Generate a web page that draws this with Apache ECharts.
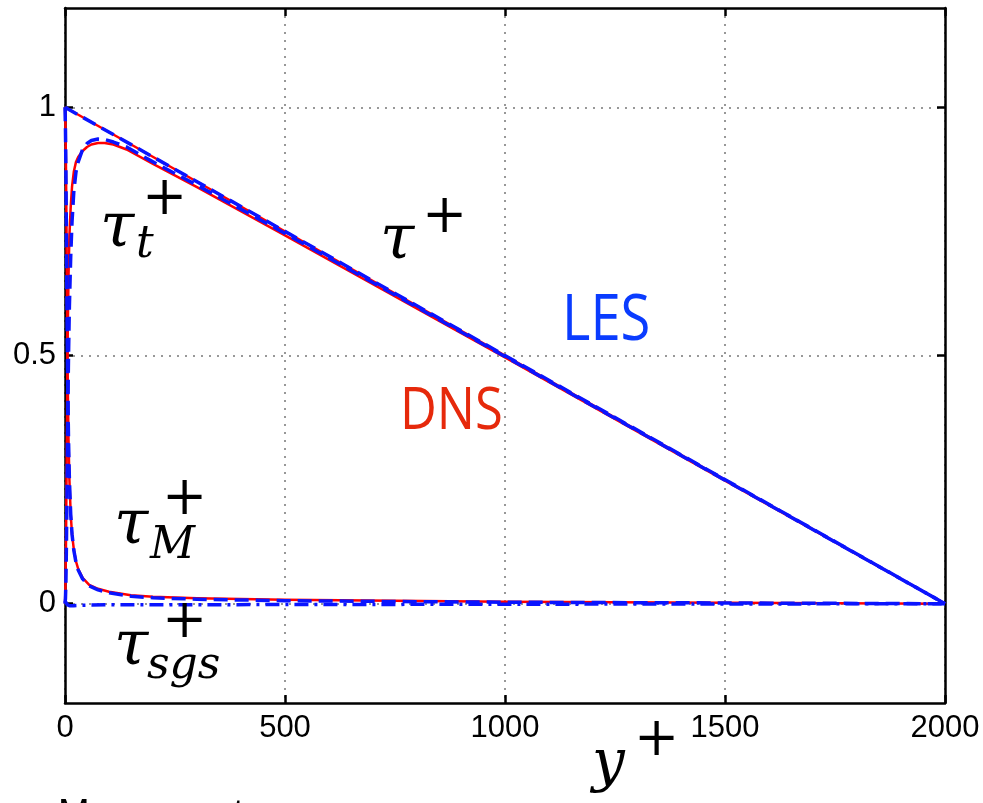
<!DOCTYPE html>
<html>
<head>
<meta charset="utf-8">
<script src="https://cdn.jsdelivr.net/npm/echarts@6/dist/echarts.min.js"></script>
<style>
  html, body { margin: 0; padding: 0; background: #fff; }
  #chart { width: 983px; height: 803px; }
</style>
</head>
<body>
<div id="chart"></div>
<script>
// axis ticks
var xTicks = [0, 500, 1000, 1500, 2000];
var yTicks = [0, 0.5, 1];

// total stress tau+
var totalY = [0, 2000];
var totalDNS = [1, 0];
var totalLES = [1, 0];

// turbulent stress tau_t+
var turbY = [0, 1, 2, 3, 4, 5, 6, 8, 10, 13, 16, 20, 25, 30, 40, 50, 60, 75, 90, 110, 140, 200, 300, 500, 1000, 1500, 2000];
var turbDNS = [0, 0.03, 0.1, 0.2, 0.31, 0.43, 0.53, 0.66, 0.74, 0.8, 0.84, 0.87, 0.89, 0.9, 0.912, 0.92, 0.925, 0.928, 0.928, 0.925, 0.915, 0.886, 0.839, 0.742, 0.496, 0.248, 0];
var turbLES = [0, 0.01, 0.04, 0.1, 0.18, 0.27, 0.36, 0.5, 0.6, 0.7, 0.77, 0.83, 0.87, 0.89, 0.915, 0.927, 0.933, 0.936, 0.935, 0.93, 0.92, 0.89, 0.843, 0.746, 0.498, 0.249, 0];

// viscous stress tau_M+
var viscY = [0, 1, 2, 3, 4, 5, 6, 8, 10, 13, 16, 20, 25, 30, 40, 55, 75, 100, 150, 200, 300, 500, 1000, 1500, 2000];
var viscDNS = [1, 0.97, 0.9, 0.8, 0.68, 0.56, 0.46, 0.33, 0.25, 0.18, 0.14, 0.11, 0.085, 0.07, 0.052, 0.038, 0.03, 0.024, 0.017, 0.014, 0.011, 0.008, 0.004, 0.002, 0];
var viscLES = [1, 0.96, 0.88, 0.77, 0.65, 0.54, 0.45, 0.33, 0.25, 0.18, 0.14, 0.108, 0.083, 0.068, 0.05, 0.036, 0.028, 0.022, 0.015, 0.012, 0.009, 0.006, 0.003, 0.0015, 0];

// subgrid stress tau_sgs+
var sgsY = [0, 2, 5, 10, 20, 40, 100, 300, 1000, 2000];
var sgsLES = [0.006, 0.002, -0.002, -0.004, -0.004, -0.003, -0.002, -0.002, -0.001, 0];

function pairs(xs, ys) {
    var out = [];
    for (var i = 0; i < xs.length; i++) out.push([xs[i], ys[i]]);
    return out;
}

var RED = '#ff0000';
var BLUE = '#0a14ff';
var dashed = [14, 7];
var dashDot = [14, 6, 3, 6];

function redLine(name, xs, ys) {
    return {
        name: name, type: 'line', showSymbol: false,
        data: pairs(xs, ys),
        lineStyle: { color: RED, width: 2.5, join: 'round' }
    };
}
function blueLine(name, xs, ys, type) {
    return {
        name: name, type: 'line', showSymbol: false,
        data: pairs(xs, ys),
        lineStyle: { color: BLUE, width: 3.5, type: type, join: 'round' }
    };
}

var mathFont = 'italic 62px "DejaVu Serif"';
var subFont = 'italic 44px "DejaVu Serif"';
var plusFont = '54px "DejaVu Serif"';

function txt(x, y, text, font, fill) {
    return {
        type: 'text', x: x, y: y, z: 100,
        style: { text: text, font: font, fill: fill || '#000', textAlign: 'left', textVerticalAlign: 'middle' }
    };
}

var axisCommon = {
    type: 'value', min: xTicks[0], max: xTicks[xTicks.length - 1], interval: 500,
    axisLine: { onZero: false, lineStyle: { color: '#000', width: 2.5 } },
    axisTick: { inside: true, length: 8, lineStyle: { color: '#000', width: 2.5 } }
};

var option = {
    animation: false,
    backgroundColor: '#fff',
    grid: { left: 65, right: 38, top: 8, bottom: 100, containLabel: false, outerBoundsMode: 'none' },
    xAxis: [
        Object.assign({}, axisCommon, {
            position: 'bottom',
            axisLabel: {
                color: '#000', fontSize: 31, fontFamily: 'Liberation Sans', margin: 10,
                formatter: function (v) { return String(v); }
            },
            splitLine: { show: true, lineStyle: { color: '#777', width: 1.5, type: [2, 6] } }
        }),
        Object.assign({}, axisCommon, {
            position: 'top',
            axisLabel: { show: false },
            splitLine: { show: false }
        })
    ],
    yAxis: [
        {
            type: 'value', min: -0.2, max: 1.2, position: 'left',
            axisLine: { onZero: false, lineStyle: { color: '#000', width: 2.5 } },
            axisTick: { inside: true, length: 8, customValues: yTicks, lineStyle: { color: '#000', width: 2.5 } },
            axisLabel: { customValues: yTicks, color: '#000', fontSize: 31, fontFamily: 'Liberation Sans', margin: 9 },
            splitLine: { show: true, lineStyle: { color: '#777', width: 1.5, type: [2, 6] } }
        },
        {
            type: 'value', min: -0.2, max: 1.2, position: 'right',
            axisLine: { onZero: false, lineStyle: { color: '#000', width: 2.5 } },
            axisTick: { inside: true, length: 8, customValues: yTicks, lineStyle: { color: '#000', width: 2.5 } },
            axisLabel: { show: false },
            splitLine: { show: false }
        }
    ],
    series: [
        redLine('tau DNS', totalY, totalDNS),
        redLine('tau_t DNS', turbY, turbDNS),
        redLine('tau_M DNS', viscY, viscDNS),
        blueLine('tau LES', totalY, totalLES, dashed),
        blueLine('tau_t LES', turbY, turbLES, dashed),
        blueLine('tau_M LES', viscY, viscLES, dashed),
        blueLine('tau_sgs LES', sgsY, sgsLES, dashDot)
    ],
    graphic: [
        // tau+
        txt(380, 242, 'τ', mathFont), txt(422, 218, '+', plusFont),
        // tau_t+
        txt(100, 230, 'τ', mathFont), txt(136, 246, 't', subFont), txt(142, 200, '+', plusFont),
        // tau_M+
        txt(114, 527, 'τ', mathFont), txt(150, 547, 'M', subFont), txt(162, 500, '+', plusFont),
        // tau_sgs+
        txt(114, 648, 'τ', mathFont), txt(147, 667, 'sgs', subFont), txt(162, 623, '+', plusFont),
        // axis label y+
        txt(592, 765, 'y', 'italic 58px "DejaVu Serif"'), txt(634, 741, '+', plusFont),
        // legend-like labels
        { type: 'text', x: 562, y: 322, scaleX: 0.85, z: 100,
          style: { text: 'LES', font: '64px "Open Sans"', fill: '#0a3cff', textAlign: 'left', textVerticalAlign: 'middle' } },
        { type: 'text', x: 400, y: 412, scaleX: 0.86, z: 100,
          style: { text: 'DNS', font: '59px "Open Sans"', fill: '#e6290b', textAlign: 'left', textVerticalAlign: 'middle' } },
        // caption cut off by the bottom edge
        { type: 'text', x: 58, y: 797, z: 100,
          style: { text: 'Mean uv stress', font: '38px "Liberation Sans"', fill: '#000', textAlign: 'left', textVerticalAlign: 'top' } }
    ]
};

var myChart = echarts.init(document.getElementById('chart'));
myChart.setOption(option);
</script>
</body>
</html>
